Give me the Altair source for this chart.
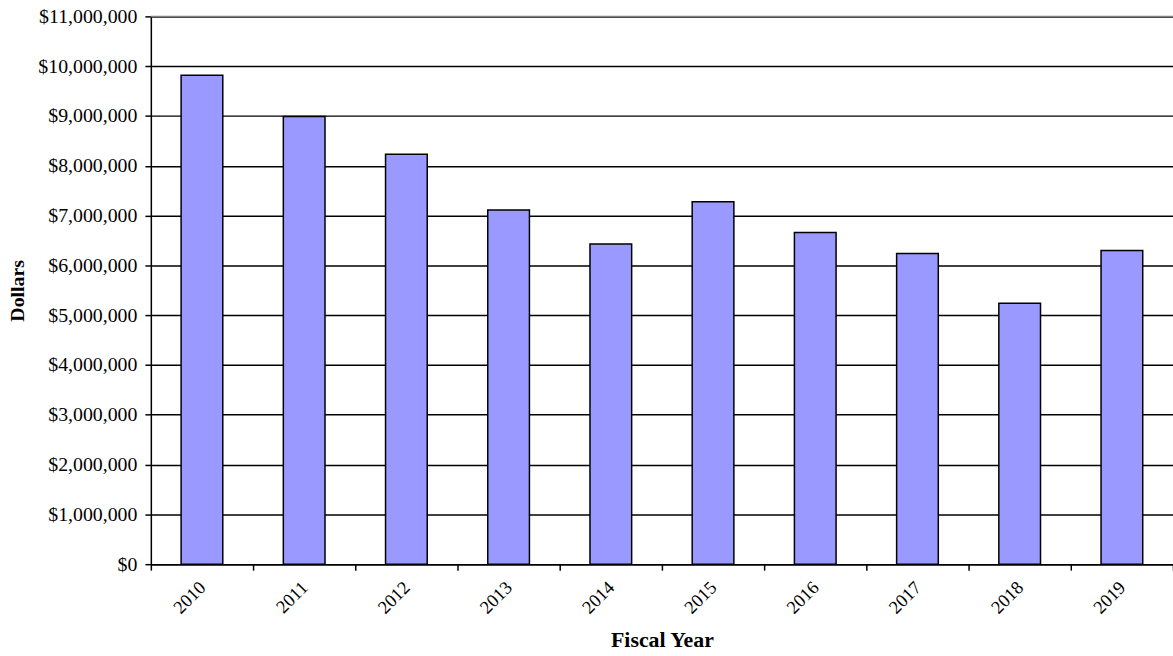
import altair as alt
import pandas as pd

years = ["2010", "2011", "2012", "2013", "2014", "2015", "2016", "2017", "2018", "2019"]
dollars = [9820000, 8990000, 8230000, 7110000, 6430000, 7280000, 6660000, 6240000, 5240000, 6300000]
y_max = 11000000
y_ticks = [0, 1000000, 2000000, 3000000, 4000000, 5000000, 6000000, 7000000, 8000000, 9000000, 10000000, 11000000]

df = pd.DataFrame({"year": years, "dollars": dollars})
top_df = pd.DataFrame({"top": [y_max]})

FONT = "Liberation Serif"

x_enc = alt.X("year:N", sort=years, title="Fiscal Year",
              scale=alt.Scale(paddingInner=0, paddingOuter=0),
              axis=alt.Axis(labelAngle=-45, labelAlign="right", labelBaseline="middle",
                            labelFontSize=18.5, labelFont=FONT, labelColor="black",
                            labelPadding=14, tickBand="extent", tickSize=6, tickColor="black",
                            tickWidth=1.5, domainColor="black", domainWidth=1.5,
                            titleFont=FONT, titleFontSize=22, titleFontWeight="bold",
                            titleColor="black", titlePadding=13, grid=False))

y_enc = alt.Y("dollars:Q", title="Dollars",
              scale=alt.Scale(domain=[0, y_max], nice=False),
              axis=alt.Axis(values=y_ticks, format="$,.0f", labelFontSize=20, labelFont=FONT,
                            labelColor="black", labelPadding=8, tickSize=6, tickColor="black",
                            tickWidth=1.5, domainColor="black", domainWidth=1.5,
                            gridColor="black", gridWidth=1.5, gridOpacity=1,
                            titleFont=FONT, titleFontSize=20, titleFontWeight="bold",
                            titleColor="black", titlePadding=10))

bars = alt.Chart(df).mark_bar(color="#9999FF", stroke="black", strokeWidth=1.5, width=42).encode(
    x=x_enc, y=y_enc)

top_rule = alt.Chart(top_df).mark_rule(color="#808080", strokeWidth=1.5).encode(
    y=alt.Y("top:Q", scale=alt.Scale(domain=[0, y_max], nice=False)))

chart = alt.layer(bars, top_rule).properties(
    width=1030, height=552,
    autosize=alt.AutoSizeParams(type="none"),
    padding={"left": 152, "top": 14, "right": 0, "bottom": 90},
).configure_view(stroke=None).configure(background="white")

chart.save("out.html", embed_options={"renderer": "svg", "actions": False})
